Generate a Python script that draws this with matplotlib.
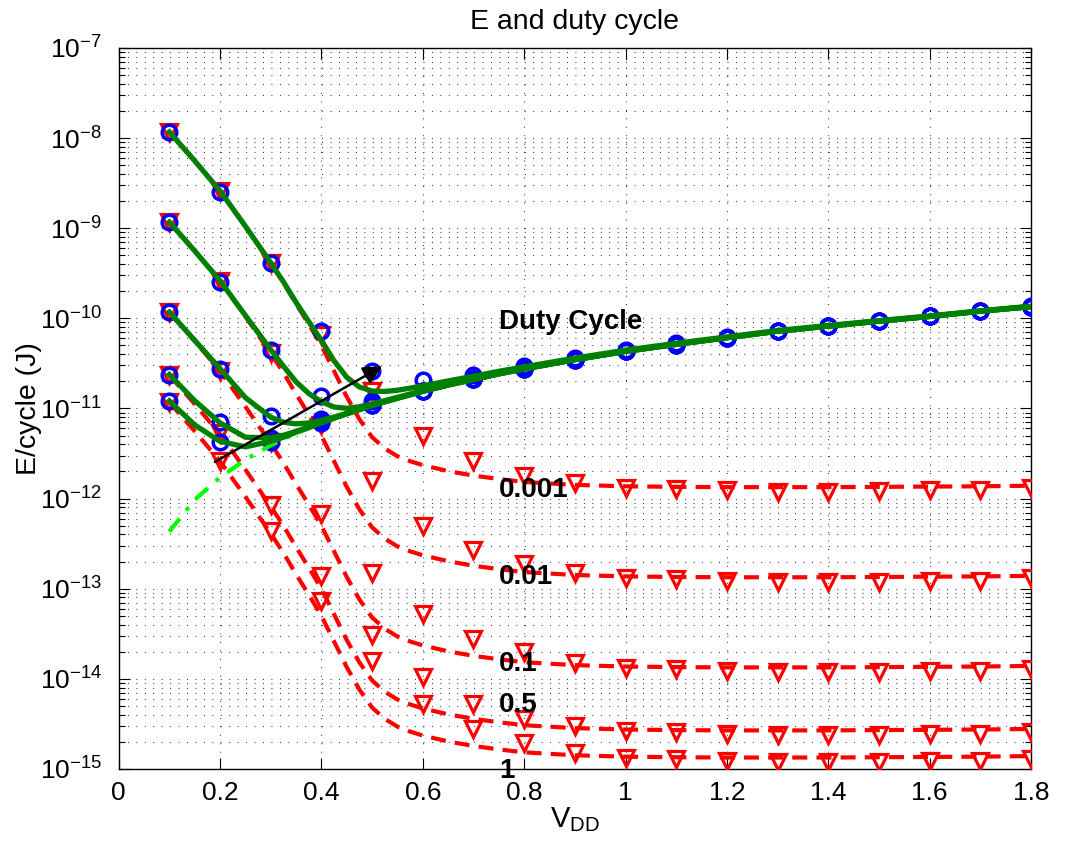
import matplotlib
matplotlib.use('Agg')
import matplotlib.pyplot as plt
from matplotlib.ticker import LogLocator, NullFormatter

plt.rcParams['font.family'] = ['Liberation Sans', 'DejaVu Sans']
plt.rcParams['mathtext.fontset'] = 'custom'
plt.rcParams['mathtext.rm'] = 'Liberation Sans'
plt.rcParams['mathtext.it'] = 'Liberation Sans:italic'
plt.rcParams['mathtext.bf'] = 'Liberation Sans:bold'

# ---------------- data ----------------
duty_labels = ['0.001', '0.01', '0.1', '0.5', '1']

V_pts = [0.1, 0.2, 0.3, 0.4, 0.5, 0.6, 0.7, 0.8, 0.9, 1.0,
         1.1, 1.2, 1.3, 1.4, 1.5, 1.6, 1.7, 1.8]

# leakage energy per cycle (red triangles)
tri_d0001 = [1.17e-8, 2.6e-9, 4.1e-10, 6.6e-11, 1.57e-11, 4.9e-12, 2.6e-12, 1.8e-12, 1.5e-12,
             1.32e-12, 1.28e-12, 1.23e-12, 1.19e-12, 1.19e-12, 1.2e-12, 1.23e-12, 1.23e-12, 1.3e-12]
tri_d001 = [1.17e-9, 2.6e-10, 4.1e-11, 6.6e-12, 1.57e-12, 5.0e-13, 2.7e-13, 1.9e-13, 1.5e-13,
            1.32e-13, 1.28e-13, 1.23e-13, 1.19e-13, 1.19e-13, 1.2e-13, 1.23e-13, 1.23e-13, 1.3e-13]
tri_d01 = [1.17e-10, 2.6e-11, 4.3e-12, 6.7e-13, 1.5e-13, 5.2e-14, 2.75e-14, 2.0e-14, 1.5e-14,
           1.32e-14, 1.28e-14, 1.23e-14, 1.19e-14, 1.19e-14, 1.2e-14, 1.23e-14, 1.23e-14, 1.3e-14]
tri_d05 = [2.35e-11, 5.3e-12, 8.6e-13, 1.37e-13, 3.1e-14, 1.05e-14, 5.2e-15, 3.6e-15, 3.0e-15,
           2.64e-15, 2.56e-15, 2.46e-15, 2.38e-15, 2.38e-15, 2.4e-15, 2.46e-15, 2.46e-15, 2.6e-15]
tri_d1 = [1.17e-11, 2.6e-12, 4.4e-13, 7.4e-14, 1.57e-14, 5.2e-15, 2.75e-15, 1.95e-15, 1.5e-15,
          1.32e-15, 1.28e-15, 1.23e-15, 1.19e-15, 1.19e-15, 1.2e-15, 1.23e-15, 1.23e-15, 1.3e-15]

# total energy per cycle (blue circles)
circ_d0001 = [1.17e-8, 2.55e-9, 4.1e-10, 7.2e-11, 2.6e-11, 2.07e-11, 2.35e-11, 2.93e-11, 3.62e-11,
              4.42e-11, 5.27e-11, 6.22e-11, 7.32e-11, 8.3e-11, 9.42e-11, 1.06e-10, 1.21e-10, 1.36e-10]
circ_d001 = [1.17e-9, 2.55e-10, 4.5e-11, 1.37e-11, 1.22e-11, 1.58e-11, 2.13e-11, 2.78e-11, 3.5e-11,
             4.31e-11, 5.14e-11, 6.08e-11, 7.21e-11, 8.18e-11, 9.31e-11, 1.05e-10, 1.2e-10, 1.35e-10]
circ_d01 = [1.17e-10, 2.77e-11, 8.2e-12, 7.6e-12, 1.1e-11, 1.56e-11, 2.1e-11, 2.77e-11, 3.49e-11,
            4.3e-11, 5.12e-11, 6.07e-11, 7.2e-11, 8.17e-11, 9.3e-11, 1.05e-10, 1.2e-10, 1.35e-10]
circ_d05 = [2.38e-11, 7.1e-12, 4.7e-12, 7.0e-12, 1.08e-11, 1.55e-11, 2.1e-11, 2.77e-11, 3.49e-11,
            4.3e-11, 5.12e-11, 6.07e-11, 7.2e-11, 8.17e-11, 9.3e-11, 1.05e-10, 1.2e-10, 1.35e-10]
circ_d1 = [1.2e-11, 4.2e-12, 4.3e-12, 6.9e-12, 1.08e-11, 1.55e-11, 2.1e-11, 2.77e-11, 3.48e-11,
           4.3e-11, 5.12e-11, 6.07e-11, 7.2e-11, 8.17e-11, 9.3e-11, 1.05e-10, 1.2e-10, 1.35e-10]

# model curves (finer voltage grid)
V_fit = [0.10, 0.15, 0.20, 0.25, 0.30, 0.325, 0.35, 0.375, 0.40, 0.425, 0.45, 0.475, 0.50,
         0.525, 0.55, 0.575, 0.60, 0.65, 0.70, 0.75, 0.80, 0.90, 1.0, 1.1, 1.2, 1.3, 1.4,
         1.5, 1.6, 1.7, 1.8]

leak_fit_d0001 = [1.17e-8, 5.6e-9, 2.6e-9, 1.05e-9, 4.1e-10, 2.5e-10, 1.45e-10, 8.6e-11, 5.0e-11,
                  2.6e-11, 1.35e-11, 7.6e-12, 4.8e-12, 3.6e-12, 2.95e-12, 2.6e-12, 2.35e-12,
                  2.02e-12, 1.8e-12, 1.65e-12, 1.53e-12, 1.42e-12, 1.37e-12, 1.35e-12, 1.34e-12,
                  1.34e-12, 1.34e-12, 1.35e-12, 1.36e-12, 1.37e-12, 1.39e-12]
leak_fit_d001 = [1.17e-9, 5.6e-10, 2.6e-10, 1.05e-10, 4.1e-11, 2.5e-11, 1.45e-11, 8.6e-12, 5.0e-12,
                 2.6e-12, 1.35e-12, 7.6e-13, 4.8e-13, 3.6e-13, 2.95e-13, 2.6e-13, 2.35e-13,
                 2.02e-13, 1.8e-13, 1.65e-13, 1.53e-13, 1.42e-13, 1.37e-13, 1.35e-13, 1.34e-13,
                 1.34e-13, 1.34e-13, 1.35e-13, 1.36e-13, 1.37e-13, 1.39e-13]
leak_fit_d01 = [1.17e-10, 5.6e-11, 2.6e-11, 1.05e-11, 4.1e-12, 2.5e-12, 1.45e-12, 8.6e-13, 5.0e-13,
                2.6e-13, 1.35e-13, 7.6e-14, 4.8e-14, 3.6e-14, 2.95e-14, 2.6e-14, 2.35e-14,
                2.02e-14, 1.8e-14, 1.65e-14, 1.53e-14, 1.42e-14, 1.37e-14, 1.35e-14, 1.34e-14,
                1.34e-14, 1.34e-14, 1.35e-14, 1.36e-14, 1.37e-14, 1.39e-14]
leak_fit_d05 = [2.34e-11, 1.12e-11, 5.2e-12, 2.1e-12, 8.2e-13, 5.0e-13, 2.9e-13, 1.72e-13, 1.0e-13,
                5.2e-14, 2.7e-14, 1.52e-14, 9.6e-15, 7.2e-15, 5.9e-15, 5.2e-15, 4.7e-15,
                4.04e-15, 3.6e-15, 3.3e-15, 3.06e-15, 2.84e-15, 2.74e-15, 2.7e-15, 2.68e-15,
                2.68e-15, 2.68e-15, 2.7e-15, 2.72e-15, 2.74e-15, 2.78e-15]
leak_fit_d1 = [1.17e-11, 5.6e-12, 2.6e-12, 1.05e-12, 4.1e-13, 2.5e-13, 1.45e-13, 8.6e-14, 5.0e-14,
               2.6e-14, 1.35e-14, 7.6e-15, 4.8e-15, 3.6e-15, 2.95e-15, 2.6e-15, 2.35e-15,
               2.02e-15, 1.8e-15, 1.65e-15, 1.53e-15, 1.42e-15, 1.37e-15, 1.35e-15, 1.34e-15,
               1.34e-15, 1.34e-15, 1.35e-15, 1.36e-15, 1.37e-15, 1.39e-15]

total_fit_d0001 = [1.17e-8, 5.6e-9, 2.6e-9, 1.053e-9, 4.14e-10, 2.545e-10, 1.503e-10, 9.2e-11,
                   5.69e-11, 3.38e-11, 2.22e-11, 1.73e-11, 1.56e-11, 1.545e-11, 1.595e-11, 1.68e-11,
                   1.785e-11, 2.02e-11, 2.28e-11, 2.585e-11, 2.9e-11, 3.62e-11, 4.44e-11, 5.29e-11,
                   6.23e-11, 7.33e-11, 8.33e-11, 9.44e-11, 1.064e-10, 1.214e-10, 1.364e-10]
total_fit_d001 = [1.17e-9, 5.61e-10, 2.62e-10, 1.077e-10, 4.49e-11, 2.95e-11, 1.98e-11, 1.465e-11,
                  1.19e-11, 1.037e-11, 1.005e-11, 1.046e-11, 1.128e-11, 1.221e-11, 1.33e-11, 1.446e-11,
                  1.574e-11, 1.84e-11, 2.12e-11, 2.44e-11, 2.77e-11, 3.49e-11, 4.31e-11, 5.16e-11,
                  6.11e-11, 7.21e-11, 8.21e-11, 9.31e-11, 1.051e-10, 1.201e-10, 1.351e-10]
total_fit_d01 = [1.174e-10, 5.7e-11, 2.77e-11, 1.32e-11, 8.0e-12, 7.04e-12, 6.75e-12, 6.91e-12,
                 7.4e-12, 8.03e-12, 8.84e-12, 9.78e-12, 1.085e-11, 1.19e-11, 1.303e-11, 1.423e-11,
                 1.552e-11, 1.82e-11, 2.1e-11, 2.42e-11, 2.75e-11, 3.48e-11, 4.3e-11, 5.15e-11,
                 6.1e-11, 7.2e-11, 8.2e-11, 9.3e-11, 1.05e-10, 1.2e-10, 1.35e-10]
total_fit_d05 = [2.38e-11, 1.22e-11, 6.92e-12, 4.8e-12, 4.72e-12, 5.04e-12, 5.59e-12, 6.22e-12,
                 7.0e-12, 7.82e-12, 8.73e-12, 9.72e-12, 1.081e-11, 1.185e-11, 1.3e-11, 1.42e-11,
                 1.55e-11, 1.82e-11, 2.1e-11, 2.42e-11, 2.75e-11, 3.48e-11, 4.3e-11, 5.15e-11,
                 6.1e-11, 7.2e-11, 8.2e-11, 9.3e-11, 1.05e-10, 1.2e-10, 1.35e-10]
total_fit_d1 = [1.213e-11, 6.57e-12, 4.32e-12, 3.75e-12, 4.31e-12, 4.79e-12, 5.45e-12, 6.14e-12,
                6.95e-12, 7.8e-12, 8.71e-12, 9.71e-12, 1.08e-11, 1.185e-11, 1.3e-11, 1.42e-11,
                1.55e-11, 1.82e-11, 2.1e-11, 2.42e-11, 2.75e-11, 3.48e-11, 4.3e-11, 5.15e-11,
                6.1e-11, 7.2e-11, 8.2e-11, 9.3e-11, 1.05e-10, 1.2e-10, 1.35e-10]

# dynamic (active) energy, dash-dot
dyn_fit = [4.3e-13, 9.7e-13, 1.72e-12, 2.7e-12, 3.9e-12, 4.54e-12, 5.3e-12, 6.05e-12, 6.9e-12,
           7.77e-12, 8.7e-12, 9.7e-12, 1.08e-11, 1.185e-11, 1.3e-11, 1.42e-11, 1.55e-11,
           1.82e-11, 2.1e-11, 2.42e-11, 2.75e-11, 3.48e-11, 4.3e-11, 5.15e-11, 6.1e-11,
           7.2e-11, 8.2e-11, 9.3e-11, 1.05e-10, 1.2e-10, 1.35e-10]

x_ticks = [0, 0.2, 0.4, 0.6, 0.8, 1.0, 1.2, 1.4, 1.6, 1.8]
x_ticklabels = ['0', '0.2', '0.4', '0.6', '0.8', '1', '1.2', '1.4', '1.6', '1.8']

tri_all = [tri_d0001, tri_d001, tri_d01, tri_d05, tri_d1]
circ_all = [circ_d0001, circ_d001, circ_d01, circ_d05, circ_d1]
leak_all = [leak_fit_d0001, leak_fit_d001, leak_fit_d01, leak_fit_d05, leak_fit_d1]
total_all = [total_fit_d0001, total_fit_d001, total_fit_d01, total_fit_d05, total_fit_d1]

# ---------------- figure ----------------
fig = plt.figure(figsize=(10.66, 8.43), dpi=100)
ax = fig.add_axes([0.1113, 0.0878, 0.8559, 0.8553])
ax.set_yscale('log')
ax.set_xlim(0, 1.8)
ax.set_ylim(1e-15, 1e-7)

grid_kw = dict(color='0.15', linewidth=0.8, dashes=(0.8, 6.8))
ax.set_axisbelow(True)
ax.grid(True, which='major', axis='both', **grid_kw)
ax.grid(True, which='minor', axis='y', **grid_kw)

RED = '#ff0000'
BLUE = '#0000ff'
GREEN = '#008000'

for leak in leak_all:
    ax.plot(V_fit, leak, color=RED, lw=3.0, dashes=(3.6, 2.2), zorder=2)
for tri in tri_all:
    ax.plot(V_pts, tri, linestyle='none', marker='v', markersize=11.5, mfc='none',
            mec=RED, mew=2.3, zorder=3)
for circ in circ_all:
    ax.plot(V_pts, circ, linestyle='none', marker='o', markersize=10.5, mfc='none',
            mec=BLUE, mew=2.5, zorder=4)
ax.plot(V_fit, dyn_fit, color='#00ff00', lw=3.0, dashes=(4, 2.5, 1, 2.5), zorder=4.5)
for tot in total_all:
    ax.plot(V_fit, tot, color=GREEN, lw=3.8, zorder=5)

ax.annotate('', xy=(0.52, 2.95e-11), xytext=(0.19, 2.55e-12),
            arrowprops=dict(arrowstyle='-|>', color='k', lw=1.8, mutation_scale=28,
                            shrinkA=0, shrinkB=0), zorder=6)

fs = 20
ax.text(0.75, 9.2e-11, 'Duty Cycle', fontsize=fs, fontweight='bold', va='center', ha='left', zorder=7)
label_y = [1.25e-12, 1.35e-13, 1.45e-14, 5.1e-15, 9.6e-16]
for lab, yy in zip(duty_labels, label_y):
    ax.text(0.75, yy, lab, fontsize=fs, fontweight='bold', va='center', ha='left', zorder=7,
            clip_on=False)

ax.set_xticks(x_ticks)
ax.set_xticklabels(x_ticklabels)
ax.yaxis.set_major_locator(LogLocator(base=10, numticks=20))
ax.yaxis.set_minor_locator(LogLocator(base=10, subs=range(2, 10), numticks=20))
ax.yaxis.set_minor_formatter(NullFormatter())
ax.tick_params(which='both', direction='in', top=True, right=True, labelsize=19)
ax.tick_params(which='major', length=8, width=0.8)
ax.tick_params(which='minor', length=4, width=0.8)
ax.tick_params(axis='x', pad=9)
ax.tick_params(axis='y', pad=12)

for sp in ax.spines.values():
    sp.set_linewidth(1.0)

ax.set_title('E and duty cycle', fontsize=20.5, pad=14)
ax.set_xlabel(r'V$_{\mathregular{DD}}$', fontsize=21, labelpad=0)
ax.set_ylabel('E/cycle (J)', fontsize=20.5, labelpad=-2)

fig.savefig('out.png', dpi=100)
